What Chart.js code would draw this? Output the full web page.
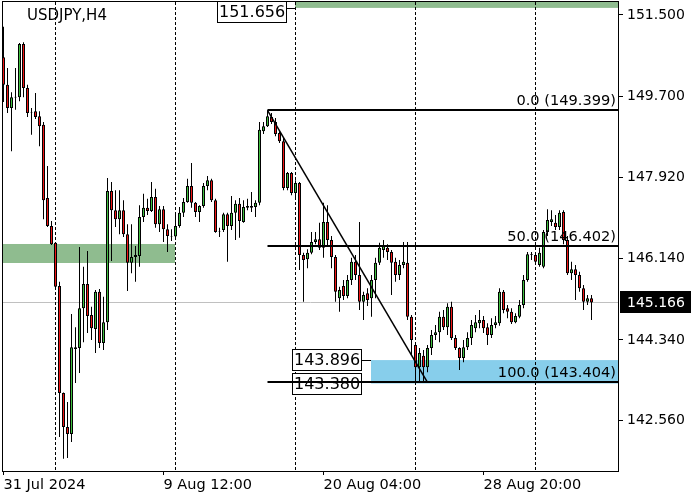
<!DOCTYPE html>
<html><head><meta charset="utf-8">
<script src="https://cdn.jsdelivr.net/npm/chart.js@4"></script>
<style>html,body{margin:0;padding:0;background:#fff}#wrap{width:700px;height:500px}</style>
</head><body><div id="wrap"><canvas id="c" width="700" height="500"></canvas></div>
<script>
// ---- data (USDJPY H4, candle index 0 = 31 Jul 2024 20:00) ----
const opens = [
150.57,149.96,149.45,149.68,149.69,150.86,149.89,149.36,149.38,149.27,
149.08,147.47,146.85,146.48,145.53,143.17,142.42,142.27,144.18,144.16,
145.04,145.57,144.89,144.58,145.40,144.27,144.73,147.62,147.20,147.00,
147.20,146.67,146.04,146.17,146.19,147.05,147.25,147.18,147.49,146.89,
147.22,146.78,146.63,146.62,146.85,147.14,147.38,147.73,147.36,147.16,
147.29,147.73,147.86,147.42,146.74,146.76,147.11,146.85,147.14,147.34,
146.94,147.29,147.25,147.27,147.36,148.94,149.05,149.25,149.14,148.90,
148.72,147.69,148.02,147.58,147.80,146.21,146.12,146.26,146.50,146.56,
146.37,146.94,146.54,146.17,145.26,145.53,145.31,145.66,146.06,145.77,
145.18,145.37,145.26,145.66,146.04,146.32,146.37,146.28,146.06,145.77,
145.99,146.04,144.85,144.23,143.74,143.99,143.74,144.16,144.45,144.51,
144.85,144.62,145.07,144.38,144.16,143.94,144.18,144.38,144.60,144.71,
144.78,144.62,144.45,144.67,144.71,145.40,145.04,144.96,144.73,144.85,
145.11,145.66,146.21,146.21,145.99,145.95,146.72,146.94,146.92,146.83,
147.16,146.54,145.81,145.90,145.77,145.48,145.18,145.26];
const highs = [
151.24,150.33,149.80,150.33,150.88,150.90,149.96,149.45,149.78,149.38,
149.14,148.17,146.96,146.49,145.62,143.18,142.97,144.91,144.62,146.39,
145.95,146.30,145.07,145.44,145.46,145.29,147.91,147.82,147.64,147.64,
147.42,146.89,146.89,146.41,147.31,147.56,147.45,147.82,147.67,147.29,
147.29,146.89,146.78,147.16,147.27,147.47,147.89,148.24,147.38,147.31,
147.80,147.95,147.89,147.45,146.81,147.14,147.14,147.51,147.42,147.47,
147.42,147.45,147.60,147.42,149.14,149.14,149.40,149.34,149.23,148.94,
148.79,148.04,148.04,147.86,147.82,146.26,146.34,146.72,146.72,146.92,
147.36,147.31,146.63,146.21,145.51,145.66,145.77,146.15,146.21,146.94,
145.40,145.48,145.77,146.15,146.48,146.54,146.45,146.32,146.15,146.10,
146.50,146.50,144.89,144.29,144.16,144.12,144.23,144.56,144.67,144.96,
145.00,145.15,145.18,144.45,144.18,144.34,144.51,144.78,144.89,145.00,
144.87,144.71,144.82,144.87,145.48,145.44,145.11,145.04,144.93,145.22,
145.77,146.28,146.28,146.28,146.37,146.76,147.22,147.20,147.09,147.20,
147.20,146.63,146.06,145.99,145.84,145.55,145.33,145.33];
const lows = [
149.58,149.34,148.50,149.41,149.60,149.69,149.25,148.86,149.21,148.61,
147.00,146.83,146.43,145.50,142.20,141.72,141.74,142.09,143.39,143.61,
144.29,144.49,144.34,144.05,144.16,144.12,144.56,146.08,146.83,146.67,
146.61,145.42,145.81,145.62,145.95,146.94,147.09,147.16,146.81,146.72,
146.50,146.28,146.52,146.59,146.81,147.05,147.36,147.25,147.05,146.94,
147.25,147.64,147.38,146.70,146.61,146.72,146.06,146.76,146.54,146.59,
146.92,147.20,147.16,147.05,147.31,148.88,149.03,149.10,148.83,148.68,
147.64,147.64,147.53,147.49,145.88,145.18,145.92,146.23,146.45,146.32,
146.15,146.43,145.92,145.18,144.96,145.22,145.26,145.55,145.66,145.00,
144.78,145.09,144.85,145.26,145.99,146.15,146.10,145.33,145.62,145.66,
145.92,144.78,144.01,143.404,143.43,143.41,143.63,144.01,144.34,144.29,
144.56,144.45,144.34,144.12,143.68,143.85,144.12,144.23,144.51,144.60,
144.49,144.23,144.38,144.60,144.65,144.93,144.82,144.69,144.71,144.82,
145.04,145.62,146.10,145.99,145.95,145.92,146.63,146.85,146.76,146.76,
146.45,145.77,145.66,145.22,145.40,145.00,145.11,144.78];
const closes = [
149.96,149.45,149.69,149.70,150.86,149.89,149.34,149.35,149.25,149.05,
147.42,146.85,146.45,145.51,143.17,142.42,142.27,144.18,144.14,145.04,
145.57,144.87,144.60,145.40,144.27,144.73,147.62,147.20,147.00,147.20,
146.67,146.04,146.17,146.21,147.05,147.25,147.18,147.49,146.89,147.22,
146.78,146.63,146.62,146.85,147.14,147.38,147.73,147.36,147.16,147.29,
147.73,147.86,147.42,146.72,146.73,147.11,146.85,147.14,147.34,146.96,
147.27,147.25,147.29,147.36,148.97,149.05,149.27,149.14,148.88,148.72,
147.69,148.02,147.58,147.80,146.21,146.10,146.26,146.50,146.56,146.37,
146.94,146.54,146.17,145.40,145.44,145.31,145.66,146.06,145.77,145.18,
145.33,145.22,145.66,146.04,146.37,146.41,146.28,146.04,145.77,145.99,
146.06,144.85,144.34,143.74,144.05,143.74,144.16,144.45,144.51,144.85,
144.62,145.07,144.38,144.16,143.94,144.18,144.38,144.67,144.73,144.78,
144.60,144.45,144.67,144.73,145.40,145.00,144.96,144.73,144.87,145.11,
145.66,146.23,146.23,146.06,146.26,146.72,146.98,147.00,146.83,147.14,
146.54,145.81,145.90,145.77,145.48,145.18,145.26,145.166];

const xTickIndex = [0, 40, 80, 120];
const xTickLabels = ['31 Jul 2024', '9 Aug 12:00', '20 Aug 04:00', '28 Aug 20:00'];
const yTickValues = [142.56, 144.34, 146.14, 147.92, 149.70, 151.50];
const weekStartIndex = [13, 43, 73, 103, 133];
const symbolTitle = 'USDJPY,H4';
const lastPrice = 145.166;
const fibHighIndex = 66, fibLowIndex = 106;
const fibLevelNames = ['0.0', '50.0', '100.0'];
const fibLevelPrices = [149.399, 146.402, 143.404];
const topZoneStart = 73, topZoneLow = 151.656;
const leftZoneEnd = 43, leftZoneLow = 146.035, leftZoneHigh = 146.454;
const blueZoneStart = 92, blueZoneLow = 143.380, blueZoneHigh = 143.896;

// ---- build datasets ----
const idx = opens.map((_, i) => i);
const wickData = idx.map(i => ({x: i, y: [lows[i], highs[i]]}));
const bodyData = idx.map(i => ({x: i, y: [opens[i], closes[i]]}));
const bodyColors = idx.map(i => closes[i] >= opens[i] ? '#3fbf3f' : '#f01515');

const FONT = 'DejaVu Sans';

function priceBox(ctx, text, rightX, cy, size) {
  ctx.font = size + 'px ' + FONT;
  const w = Math.round(ctx.measureText(text).width) + 4;
  const h = 22;
  let top = Math.round(cy - h / 2);
  if (top < 1) top = 1;
  const left = Math.round(rightX - w);
  ctx.fillStyle = '#fff';
  ctx.fillRect(left, top, w, h);
  ctx.strokeStyle = '#000';
  ctx.lineWidth = 1;
  ctx.strokeRect(left + 0.5, top + 0.5, w - 1, h - 1);
  ctx.fillStyle = '#000';
  ctx.textAlign = 'left';
  ctx.textBaseline = 'middle';
  ctx.fillText(text, left + 2, top + h / 2 + 1);
  return {left, right: left + w};
}

const overlay = {
  id: 'overlay',
  beforeDatasetsDraw(chart) {
    const {ctx, chartArea: a, scales: {x, y}} = chart;
    ctx.save();
    ctx.beginPath();
    ctx.rect(a.left, a.top, a.right - a.left, a.bottom - a.top);
    ctx.clip();
    ctx.fillStyle = '#8fbc8f';
    let x0 = Math.floor(x.getPixelForValue(topZoneStart));
    let yl = y.getPixelForValue(topZoneLow);
    ctx.fillRect(x0, a.top, a.right - x0, yl - a.top);
    let x1 = Math.floor(x.getPixelForValue(leftZoneEnd));
    let yt = y.getPixelForValue(leftZoneHigh), yb = y.getPixelForValue(leftZoneLow);
    ctx.fillRect(a.left, yt, x1 - a.left, yb - yt);
    ctx.fillStyle = '#87ceeb';
    x0 = Math.floor(x.getPixelForValue(blueZoneStart));
    yt = y.getPixelForValue(blueZoneHigh); yb = y.getPixelForValue(blueZoneLow);
    ctx.fillRect(x0, yt, a.right - x0, yb - yt);
    ctx.strokeStyle = '#c0c0c0';
    ctx.lineWidth = 1;
    const yp = Math.round(y.getPixelForValue(lastPrice)) + 0.5;
    ctx.beginPath(); ctx.moveTo(a.left, yp); ctx.lineTo(a.right, yp); ctx.stroke();
    ctx.strokeStyle = '#000';
    ctx.setLineDash([3, 2]);
    weekStartIndex.forEach(i => {
      const px = Math.floor(x.getPixelForValue(i)) + 0.5;
      ctx.beginPath(); ctx.moveTo(px, a.top); ctx.lineTo(px, a.bottom); ctx.stroke();
    });
    ctx.setLineDash([]);
    ctx.restore();
  },
  afterDatasetsDraw(chart) {
    const {ctx, chartArea: a, scales: {x, y}} = chart;
    ctx.save();
    const topAnchor = Math.floor(x.getPixelForValue(topZoneStart));
    const yTop = y.getPixelForValue(topZoneLow);
    const b1 = priceBox(ctx, topZoneLow.toFixed(3), topAnchor - 8, yTop, 16);
    ctx.strokeStyle = '#000'; ctx.lineWidth = 1;
    ctx.beginPath(); ctx.moveTo(b1.right, Math.round(yTop) + 0.5); ctx.lineTo(topAnchor, Math.round(yTop) + 0.5); ctx.stroke();
    const blueAnchor = Math.floor(x.getPixelForValue(blueZoneStart));
    const yHi = y.getPixelForValue(blueZoneHigh), yLo = y.getPixelForValue(blueZoneLow);
    const b2 = priceBox(ctx, blueZoneHigh.toFixed(3), blueAnchor - 9, yHi, 16);
    ctx.beginPath(); ctx.moveTo(b2.right, Math.round(yHi) + 0.5); ctx.lineTo(blueAnchor, Math.round(yHi) + 0.5); ctx.stroke();
    priceBox(ctx, blueZoneLow.toFixed(3), blueAnchor - 9, yLo + 1, 16);

    ctx.beginPath();
    ctx.rect(a.left, a.top, a.right - a.left, a.bottom - a.top);
    ctx.clip();
    const fx = x.getPixelForValue(fibHighIndex);
    ctx.strokeStyle = '#000';
    ctx.lineWidth = 2;
    fibLevelPrices.forEach(p => {
      const py = Math.round(y.getPixelForValue(p));
      ctx.beginPath(); ctx.moveTo(fx, py); ctx.lineTo(a.right, py); ctx.stroke();
    });
    ctx.lineWidth = 1.5;
    ctx.beginPath();
    ctx.moveTo(fx, y.getPixelForValue(fibLevelPrices[0]));
    ctx.lineTo(x.getPixelForValue(fibLowIndex), y.getPixelForValue(fibLevelPrices[2]));
    ctx.stroke();
    ctx.font = '14.6px ' + FONT;
    ctx.fillStyle = '#000';
    ctx.textAlign = 'right';
    ctx.textBaseline = 'alphabetic';
    fibLevelPrices.forEach((p, k) => {
      const py = Math.round(y.getPixelForValue(p));
      ctx.fillText(fibLevelNames[k] + ' (' + p.toFixed(3) + ')', a.right - 2, py - 5);
    });
    ctx.restore();
  },
  afterDraw(chart) {
    const {ctx, chartArea: a, scales: {y}} = chart;
    ctx.save();
    ctx.strokeStyle = '#000';
    ctx.lineWidth = 1;
    ctx.strokeRect(a.left - 0.5, a.top - 0.5, a.right - a.left + 1, a.bottom - a.top + 1);
    ctx.font = '15px ' + FONT;
    ctx.fillStyle = '#000';
    ctx.textAlign = 'left';
    ctx.textBaseline = 'alphabetic';
    ctx.fillText(symbolTitle, 27, 20);
    const py = Math.round(y.getPixelForValue(lastPrice));
    ctx.fillStyle = '#000';
    ctx.fillRect(a.right + 2, py - 11, 71, 22);
    ctx.fillStyle = '#fff';
    ctx.font = '14px ' + FONT;
    ctx.textBaseline = 'middle';
    ctx.fillText(lastPrice.toFixed(3), a.right + 9, py + 1);
    ctx.restore();
  }
};

Chart.defaults.font.family = FONT;
new Chart(document.getElementById('c'), {
  type: 'bar',
  data: {
    datasets: [
      {label: 'body', data: bodyData, order: 0, grouped: false, barPercentage: 1, categoryPercentage: 1,
       maxBarThickness: 3, inflateAmount: 0, backgroundColor: bodyColors, borderColor: '#000', borderWidth: 1, borderSkipped: false},
      {label: 'wick', data: wickData, order: 1, grouped: false, barPercentage: 1, categoryPercentage: 1,
       maxBarThickness: 1, inflateAmount: 0, backgroundColor: '#000', borderWidth: 0}
    ]
  },
  options: {
    responsive: false,
    animation: false,
    devicePixelRatio: 1,
    events: [],
    layout: {padding: {left: 3, top: 2, right: 0, bottom: 0}},
    plugins: {legend: {display: false}, tooltip: {enabled: false}, title: {display: false}},
    scales: {
      x: {
        type: 'linear', min: -0.125, max: 153.625, offset: false,
        afterBuildTicks: s => { s.ticks = xTickIndex.map(v => ({value: v})); },
        afterFit: s => { s.height = 29; s.paddingLeft = 0; s.paddingRight = 0; },
        ticks: {autoSkip: false, maxRotation: 0, minRotation: 0, align: 'start', padding: 2,
                color: '#000', font: {size: 14.5, family: FONT},
                callback: (v, i) => xTickLabels[i]},
        grid: {drawOnChartArea: false, drawTicks: true, tickLength: 4, color: '#000', offset: false},
        border: {display: false}
      },
      y: {
        type: 'linear', position: 'right', min: 141.452, max: 151.786,
        afterBuildTicks: s => { s.ticks = yTickValues.map(v => ({value: v})); },
        afterFit: s => { s.width = 82; s.paddingTop = 0; s.paddingBottom = 0; },
        ticks: {padding: 4, color: '#000', font: {size: 14, family: FONT},
                callback: v => Number(v).toFixed(3)},
        grid: {drawOnChartArea: false, drawTicks: true, tickLength: 5, color: '#000'},
        border: {display: false}
      }
    }
  },
  plugins: [overlay]
});
</script>
</body></html>
